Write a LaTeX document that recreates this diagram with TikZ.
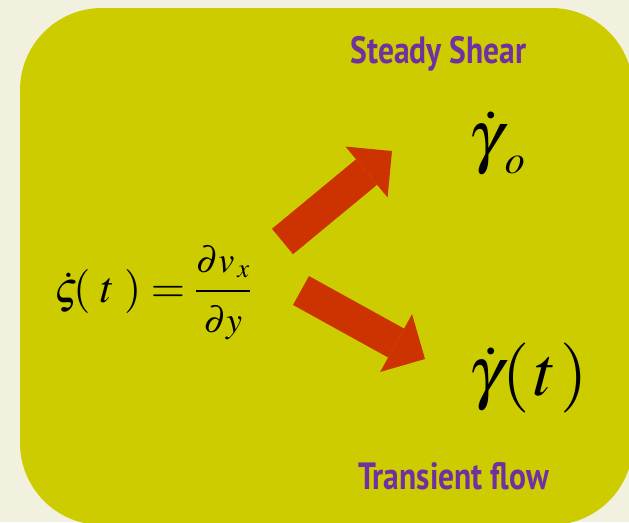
\documentclass[tikz,border=0pt]{standalone}
\usepackage{mathptmx}
\usepackage[no-math]{fontspec}
\newfontfamily\labelfont[FakeStretch=0.83]{PT Sans}
\usetikzlibrary{arrows.meta}
\definecolor{paper}{HTML}{F2F1E0}
\definecolor{panel}{HTML}{CCCC00}
\definecolor{flowred}{HTML}{CC3300}
\definecolor{tagpurple}{HTML}{7030A0}
\newcommand\fracpart[1]{\hbox{\fontsize{36}{36}\selectfont$#1$}}

\begin{document}
\begin{tikzpicture}[x=1pt,y=-1pt,
    headline/.style={font=\labelfont\bfseries\fontsize{38}{40}\selectfont,
      text=tagpurple, inner sep=0pt, anchor=base},
    formula/.style={inner sep=0pt, anchor=base west},
    bigarrow/.style={flowred, line width=33pt,
      -{Triangle[length=33pt,width=66pt,line width=0pt]}}]

  \useasboundingbox (0,0) rectangle (629,522);
  \fill[paper] (0,0) rectangle (629,522);
  \begin{scope}
    \clip (0,0) rectangle (629,522);
    \fill[panel, rounded corners=82pt] (20,8) rectangle (633,525);
  \end{scope}

  % rate and the two responses
  \node[formula, font=\fontsize{44}{50}\selectfont] (rate) at (54,302)
    {$\displaystyle\dot\varsigma\!(\;t\;)=
      \frac{\fracpart{\partial v_{\,x}}}{\fracpart{\partial y}}$};
  \node[formula, font=\fontsize{70}{80}\selectfont] (steady) at (468,159)
    {$\dot\gamma\hbox{\kern2pt\lower14pt\hbox{\fontsize{40}{40}\selectfont$o$}}$};
  \node[formula, font=\fontsize{70}{80}\selectfont] (transient) at (468,395)
    {$\dot\gamma(\mkern1mu t\mkern1mu)$};

  \node[headline] (steady tag) at (438.5,63) {Steady Shear};
  \node[headline] (transient tag) at (453.5,489) {Transient flow};

  % arrows
  \coordinate (up tail) at (282.5,241.5);
  \coordinate (up tip) at (392,151);
  \coordinate (down tail) at (301,290.5);
  \coordinate (down tip) at (425,359);
  \draw[bigarrow] (up tail) -- (up tip);
  \draw[bigarrow] (down tail) -- (down tip);

\end{tikzpicture}
\end{document}
